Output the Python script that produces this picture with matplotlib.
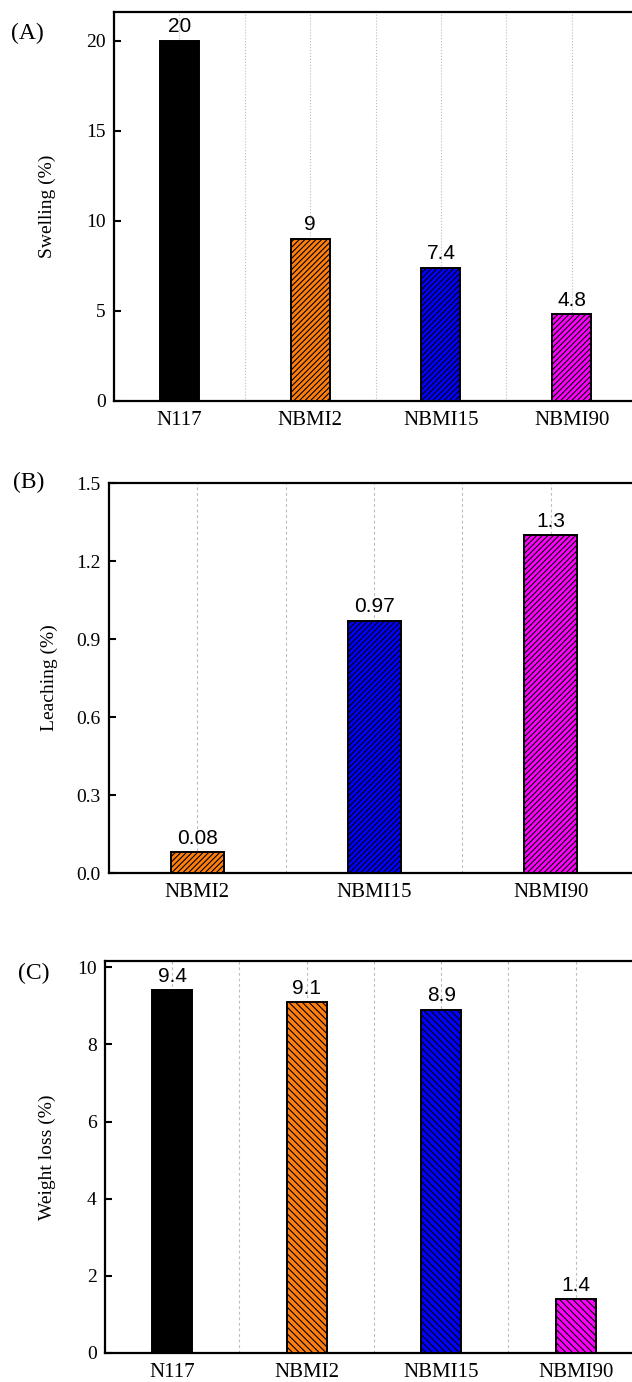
import numpy as np
import matplotlib
matplotlib.use("Agg")
import matplotlib.pyplot as plt

# ------------------------------------------------------------------
# Data
# ------------------------------------------------------------------
swell_cats = ["N117", "NBMI2", "NBMI15", "NBMI90"]
swell_vals = [20, 9, 7.4, 4.8]
swell_text = ["20", "9", "7.4", "4.8"]

leach_cats = ["NBMI2", "NBMI15", "NBMI90"]
leach_vals = [0.08, 0.97, 1.3]
leach_text = ["0.08", "0.97", "1.3"]

wloss_cats = ["N117", "NBMI2", "NBMI15", "NBMI90"]
wloss_vals = [9.4, 9.1, 8.9, 1.4]
wloss_text = ["9.4", "9.1", "8.9", "1.4"]

colors = {"N117": "#000000", "NBMI2": "#ff7f0e", "NBMI15": "#0000ff", "NBMI90": "#ff00ff"}

plt.rcParams["font.family"] = ["Liberation Serif", "DejaVu Serif"]
plt.rcParams["hatch.linewidth"] = 0.8
plt.rcParams["hatch.color"] = "black"

fig = plt.figure(figsize=(6.32, 13.82), dpi=100)


def panel(rect, cats, vals, texts, ylim, yticks, ylabel, label_x, hatch, grid_ls, tag, tag_xy):
    ax = fig.add_axes(rect)
    x = np.arange(len(cats))
    for xi, c, v in zip(x, cats, vals):
        h = None if c == "N117" else hatch
        ax.bar(xi, v, width=0.3, color=colors[c], edgecolor="black",
               linewidth=1.4, hatch=h, zorder=3)
    for xi, v, t in zip(x, vals, texts):
        ax.annotate(t, (xi, v), xytext=(0, 6), textcoords="offset points",
                    ha="center", va="baseline", fontsize=15,
                    family=["Liberation Sans", "DejaVu Sans"], zorder=4)

    ax.set_xlim(-0.5, len(cats) - 0.5)
    ax.set_ylim(*ylim)
    ax.set_xticks(x)
    ax.set_xticklabels(cats)
    ax.set_xticks(x[1:] - 0.5, minor=True)
    ax.set_yticks(yticks)
    ax.grid(axis="x", which="both", color="#bbbbbb", linestyle=grid_ls, linewidth=0.8, zorder=0)
    ax.set_axisbelow(True)

    ax.tick_params(axis="y", direction="in", length=5, width=1.5, labelsize=14, pad=6)
    ax.tick_params(axis="x", which="major", direction="in", length=4, width=1.2,
                   labelsize=15, pad=7)
    ax.tick_params(axis="x", which="minor", length=0)
    for s in ["top", "left", "bottom"]:
        ax.spines[s].set_linewidth(1.6)
    ax.spines["right"].set_visible(False)

    ax.set_ylabel(ylabel, fontsize=14)
    ax.yaxis.set_label_coords(label_x, 0.5)
    fig.text(tag_xy[0], tag_xy[1], tag, fontsize=17, ha="left", va="center")
    return ax


panel([0.1804, 0.7099, 0.8275, 0.2815], swell_cats, swell_vals, swell_text,
      (0, 21.6), [0, 5, 10, 15, 20], "Swelling (%)", -0.111, "//////", ":",
      "(A)", (0.018, 1 - 33 / 1382))

panel([0.1725, 0.3683, 0.8386, 0.2822], leach_cats, leach_vals, leach_text,
      (0, 1.5), [0.0, 0.3, 0.6, 0.9, 1.2, 1.5], "Leaching (%)", -0.096, "//////", (0, (2.5, 2.5)),
      "(B)", (0.020, 1 - 482 / 1382))

ax = panel([0.1661, 0.0210, 0.8513, 0.2836], wloss_cats, wloss_vals, wloss_text,
           (0, 10.16), [0, 2, 4, 6, 8, 10], "Weight loss (%)", -0.091, "\\\\\\\\\\", (0, (2.5, 2.5)),
           "(C)", (0.028, 1 - 973 / 1382))
ax.set_yticklabels(["0", "2", "4", "6", "8", "10"])

fig.savefig("out.png", dpi=100)
